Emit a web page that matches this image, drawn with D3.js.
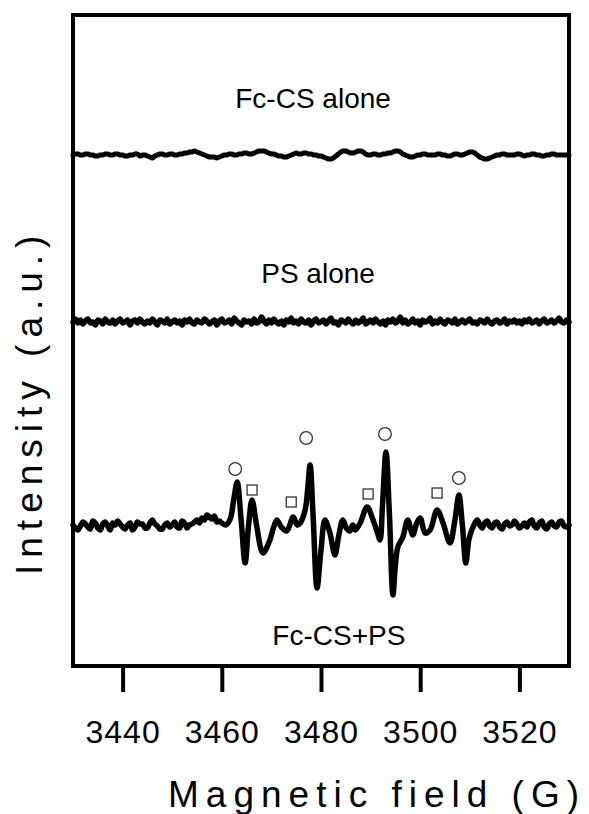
<!DOCTYPE html>
<html>
<head>
<meta charset="utf-8">
<script src="https://cdn.jsdelivr.net/npm/d3@7"></script>
<style>
  html, body { margin: 0; padding: 0; background: #fff; }
  svg { display: block; }
  text { font-family: Arial, "Liberation Sans", sans-serif; fill: #000; }
</style>
</head>
<body>
<svg id="chart" width="589" height="814"></svg>
<script>
// ---------- DATA ----------
const xTicks = [3440, 3460, 3480, 3500, 3520];

// Field grid (G, 0.5 G step) for the two noise-only traces
const fieldGrid = [
  3430,3430.5,3431,3431.5,3432,3432.5,3433,3433.5,3434,3434.5,3435,3435.5,3436,3436.5,3437,3437.5,3438,3438.5,3439,3439.5,
  3440,3440.5,3441,3441.5,3442,3442.5,3443,3443.5,3444,3444.5,3445,3445.5,3446,3446.5,3447,3447.5,3448,3448.5,3449,3449.5,
  3450,3450.5,3451,3451.5,3452,3452.5,3453,3453.5,3454,3454.5,3455,3455.5,3456,3456.5,3457,3457.5,3458,3458.5,3459,3459.5,
  3460,3460.5,3461,3461.5,3462,3462.5,3463,3463.5,3464,3464.5,3465,3465.5,3466,3466.5,3467,3467.5,3468,3468.5,3469,3469.5,
  3470,3470.5,3471,3471.5,3472,3472.5,3473,3473.5,3474,3474.5,3475,3475.5,3476,3476.5,3477,3477.5,3478,3478.5,3479,3479.5,
  3480,3480.5,3481,3481.5,3482,3482.5,3483,3483.5,3484,3484.5,3485,3485.5,3486,3486.5,3487,3487.5,3488,3488.5,3489,3489.5,
  3490,3490.5,3491,3491.5,3492,3492.5,3493,3493.5,3494,3494.5,3495,3495.5,3496,3496.5,3497,3497.5,3498,3498.5,3499,3499.5,
  3500,3500.5,3501,3501.5,3502,3502.5,3503,3503.5,3504,3504.5,3505,3505.5,3506,3506.5,3507,3507.5,3508,3508.5,3509,3509.5,
  3510,3510.5,3511,3511.5,3512,3512.5,3513,3513.5,3514,3514.5,3515,3515.5,3516,3516.5,3517,3517.5,3518,3518.5,3519,3519.5,
  3520,3520.5,3521,3521.5,3522,3522.5,3523,3523.5,3524,3524.5,3525,3525.5,3526,3526.5,3527,3527.5,3528,3528.5,3529,3529.5,
  3530];

// "Fc-CS alone" (relative intensity, a.u.)
const fcOnly = [
  0,1,1,0,0,1,1,0,0,-1,-1,0,0,1,1,0,0,1,1,0,
  0,-1,-1,0,0,1,1,-1,0,0,-1,-2,-3,-1,0,1,1,0,0,1,
  1,0,0,1,1,2,2,3,3,4,3,2,1,0,-1,-2,-2,-2,-3,-2,
  -1,0,0,1,1,0,0,1,1,2,2,1,1,2,3,4,4,4,3,2,
  1,1,0,-1,-1,-2,-2,-1,0,1,2,1,1,2,2,1,1,0,0,-1,
  -1,-2,-3,-4,-4,-3,-1,1,3,4,4,3,2,2,3,4,4,3,1,0,
  0,1,1,0,0,1,1,2,2,3,4,4,3,1,0,-1,-2,-2,-1,0,
  0,1,1,0,0,0,0,1,1,0,0,-1,-1,0,1,1,0,0,1,2,
  3,3,2,0,-2,-3,-4,-4,-3,-2,-1,0,0,1,1,0,0,0,0,1,
  1,0,-1,0,0,1,1,0,0,-1,-1,0,0,1,1,0,0,0,0,0,
  0];

// "PS alone" (relative intensity, a.u.)
const psOnly = [
  0,3,-1,2,-2,1,3,-1,0,-3,2,1,-2,3,0,-1,2,-2,1,3,
  -1,0,2,-3,1,2,-1,3,0,-2,1,-1,3,0,-3,2,1,-1,3,-2,
  0,2,-1,1,-3,2,0,3,-1,-2,2,0,-1,3,1,-2,0,2,-3,1,
  3,-1,0,2,-2,4,1,-1,-3,2,0,1,-2,3,-1,0,5,1,-2,2,
  -1,3,0,-2,1,-3,2,0,4,-1,1,-2,3,0,-1,2,-3,1,3,-1,
  0,2,-2,1,4,-1,0,-3,2,1,-1,3,0,-2,2,-1,1,4,-2,0,
  2,-1,3,0,-2,1,-3,2,0,3,-1,1,5,-1,2,-2,0,3,-1,1,
  -3,2,0,1,4,-2,1,-1,3,0,-2,2,1,-1,3,-2,0,2,-1,1,
  3,-1,0,-2,2,1,-1,3,0,-2,1,2,-1,0,3,-2,1,0,2,-1,
  1,-2,2,0,3,-1,0,2,-2,1,3,-1,0,2,-1,1,4,0,-1,2,
  0];

// "Fc-CS+PS" spectrum
const mixField = [
  3430,3430.5,3431,3431.5,3432,3432.5,3433,3433.5,3434,3434.5,3435,3435.5,3436,3436.5,3437,3437.5,3438,3438.5,3439,3439.5,
  3440,3440.5,3441,3441.5,3442,3442.5,3443,3443.5,3444,3444.5,3445,3445.5,3446,3446.5,3447,3447.5,3448,3448.5,3449,3449.5,
  3450,3450.5,3451,3451.5,3452,3452.5,3453,3453.5,3454,3454.5,3455,3455.5,3456,3456.5,3457,3457.5,3458,3458.5,3459,3459.5,
  3460,3460.8,3461.7,3462.4,3463.1,3463.9,3464.7,3465.4,3466.1,3467.0,3468.3,
  3469.7,3470.4,3471.1,3472.0,3473.1,3474.4,3475.2,3475.8,3476.8,3477.3,
  3477.8,3478.4,3479.2,3480.0,3480.8,3481.8,3482.8,3483.6,3484.4,3485.1,
  3485.8,3486.4,3486.9,3487.9,3489.3,3490.5,3491.4,3491.9,3492.4,3493.1,
  3493.8,3494.5,3495.0,3495.5,3496.5,3497.5,3498.5,3499.3,3500.0,3501.0,
  3502.0,3503.4,3504.6,3506.0,3507.0,3507.8,3508.5,3509.2,3509.8,3510.4,
  3511.5,3512,3512.5,3513,3513.5,3514,3514.5,3515,3515.5,3516,3516.5,3517,3517.5,3518,3518.5,3519,3519.5,
  3520,3520.5,3521,3521.5,3522,3522.5,3523,3523.5,3524,3524.5,3525,3525.5,3526,3526.5,3527,3527.5,3528,3528.5,3529,3529.5,3530];
const mixInt = [
  0,-3,-5,-1,3,1,-2,-4,4,2,-3,-5,1,3,-1,-5,2,0,4,1,
  -2,-4,0,2,-5,-2,3,1,1,-3,-3,2,5,1,-1,-4,-4,0,2,-2,
  0,3,-2,-3,4,2,-3,0,1,3,5,2,7,5,10,8,6,9,3,4,
  2,0,6,25,43,5,-38,0,25,0,-28,
  -15,-3,5,-2,-6,8,0,2,15,35,
  60,10,-63,-25,5,-8,-30,-10,5,-3,
  -6,0,-5,2,18,5,-8,-15,20,73,
  10,-70,-40,-22,-12,5,-10,2,7,-8,
  -5,15,2,-18,5,30,0,-38,-15,-5,
  5,0,-3,2,4,-1,-3,2,3,-2,-4,1,3,-1,0,4,1,
  -3,-1,2,-2,3,5,-1,-3,2,4,-2,-4,1,3,-1,-2,3,4,-1,-2,0];

// vertical offsets of the three traces (a.u.)
const traceNames = ["Fc-CS alone", "PS alone", "Fc-CS+PS"];
const traceOffsets = [370, 203, 0];
const labelField = [3478.4, 3479.4, 3483.6];
const labelInt = [417, 242, -120];

// peak markers on the Fc-CS+PS spectrum
const circleField = [3462.7, 3477.0, 3492.9, 3507.8];
const circleInt = [56, 87, 91, 47];
const squareField = [3466.1, 3474.0, 3489.5, 3503.4];
const squareInt = [35, 23, 31, 32];

// ---------- DRAW ----------
const svg = d3.select("#chart");
const L = 73, R = 569, T = 15, B = 666;

const x = d3.scaleLinear().domain([3430, 3530]).range([L, R]);
const y = d3.scaleLinear().domain([-141, 510]).range([B, T]);

const line = d3.line()
  .x(d => x(d[0]))
  .y(d => y(d[1]))
  .curve(d3.curveCatmullRom.alpha(0.5));

const series = [
  fieldGrid.map((f, i) => [f, fcOnly[i] + traceOffsets[0]]),
  fieldGrid.map((f, i) => [f, psOnly[i] + traceOffsets[1]]),
  mixField.map((f, i) => [f, mixInt[i] + traceOffsets[2]])
];

svg.append("g").selectAll("path")
  .data(series)
  .join("path")
  .attr("d", line)
  .attr("fill", "none")
  .attr("stroke", "#000")
  .attr("stroke-width", (d, i) => i === 0 ? 5 : 5.5)
  .attr("stroke-linejoin", "round")
  .attr("stroke-linecap", "round");

// markers
svg.append("g").selectAll("circle")
  .data(circleField.map((f, i) => [f, circleInt[i]]))
  .join("circle")
  .attr("cx", d => x(d[0]))
  .attr("cy", d => y(d[1]))
  .attr("r", 6.3)
  .attr("fill", "#fff")
  .attr("stroke", "#333")
  .attr("stroke-width", 1.3);

const sq = 10;
svg.append("g").selectAll("rect")
  .data(squareField.map((f, i) => [f, squareInt[i]]))
  .join("rect")
  .attr("x", d => x(d[0]) - sq / 2)
  .attr("y", d => y(d[1]) - sq / 2)
  .attr("width", sq)
  .attr("height", sq)
  .attr("fill", "#fff")
  .attr("stroke", "#333")
  .attr("stroke-width", 1.3);

// trace labels
svg.append("g").selectAll("text")
  .data(traceNames)
  .join("text")
  .attr("x", (d, i) => x(labelField[i]))
  .attr("y", (d, i) => y(labelInt[i]))
  .attr("text-anchor", "middle")
  .attr("font-size", 28)
  .text(d => d);

// frame
svg.append("rect")
  .attr("x", L).attr("y", T)
  .attr("width", R - L).attr("height", B - T)
  .attr("fill", "none")
  .attr("stroke", "#000")
  .attr("stroke-width", 4);

// x axis
const xAxis = d3.axisBottom(x)
  .tickValues(xTicks)
  .tickFormat(d3.format("d"))
  .tickSize(26)
  .tickSizeOuter(0)
  .tickPadding(28);

const gx = svg.append("g")
  .attr("transform", `translate(0,${B})`)
  .call(xAxis);
gx.select(".domain").remove();
gx.selectAll(".tick line").attr("stroke", "#000").attr("stroke-width", 4);
gx.selectAll(".tick text")
  .attr("font-size", 32)
  .attr("letter-spacing", 1)
  .attr("font-family", "Arial, 'Liberation Sans', sans-serif")
  .attr("fill", "#000");

// axis titles
svg.append("text")
  .attr("x", 168)
  .attr("y", 807)
  .attr("font-size", 37)
  .attr("letter-spacing", 7)
  .text("Magnetic field (G)");

svg.append("text")
  .attr("transform", "translate(42,575) rotate(-90)")
  .attr("x", 0)
  .attr("y", 0)
  .attr("font-size", 37)
  .attr("letter-spacing", 7)
  .text("Intensity (a.u.)");
</script>
</body>
</html>
